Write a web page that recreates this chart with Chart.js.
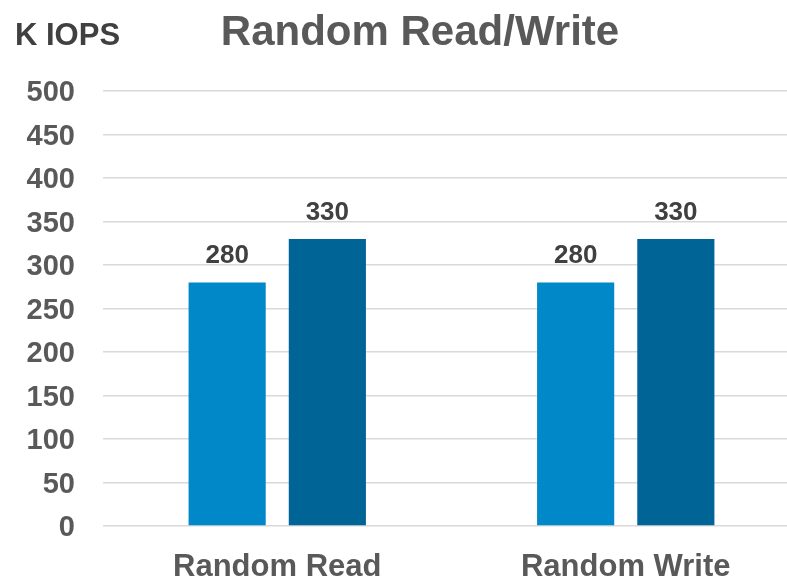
<!DOCTYPE html>
<html><head><meta charset="utf-8">
<script src="https://cdn.jsdelivr.net/npm/chart.js@4"></script>
<style>html,body{margin:0;padding:0;overflow:hidden;background:#fff}#wrap{width:800px;height:578px}</style>
</head><body><div id="wrap"><canvas id="c" width="800" height="578"></canvas></div>
<script>
const categories = ["Random Read", "Random Write"];
const seriesA = [280, 280];
const seriesB = [330, 330];
const yTicks = [0,50,100,150,200,250,300,350,400,450,500];
const titleText = "Random Read/Write";
const unitText = "K IOPS";
const FONT = '"Liberation Sans", Arial, sans-serif';

const labelPlugin = {
  id: 'labels',
  afterDatasetsDraw(chart) {
    const ctx = chart.ctx;
    ctx.save();
    ctx.font = 'bold 26px ' + FONT;
    ctx.fillStyle = '#404040';
    ctx.textAlign = 'center';
    ctx.textBaseline = 'alphabetic';
    chart.data.datasets.forEach((ds, i) => {
      chart.getDatasetMeta(i).data.forEach((bar, j) => {
        ctx.fillText(String(ds.data[j]), bar.x, bar.y - 19);
      });
    });
    ctx.font = 'bold 42px ' + FONT;
    ctx.fillStyle = '#595959';
    ctx.fillText(titleText, 420, 45);
    ctx.font = 'bold 31px ' + FONT;
    ctx.fillStyle = '#404040';
    ctx.textAlign = 'left';
    ctx.fillText(unitText, 15, 45);
    ctx.restore();
  }
};

new Chart(document.getElementById('c'), {
  type: 'bar',
  data: {
    labels: categories,
    datasets: [
      { data: seriesA, backgroundColor: '#0088C8', barPercentage: 0.77, categoryPercentage: 0.575 },
      { data: seriesB, backgroundColor: '#006496', barPercentage: 0.77, categoryPercentage: 0.575 }
    ]
  },
  options: {
    responsive: false,
    animation: false,
    devicePixelRatio: 1,
    layout: { padding: { top: 91, left: 0, right: 0, bottom: 0 } },
    plugins: { legend: { display: false }, title: { display: false }, tooltip: { enabled: false } },
    scales: {
      x: {
        afterFit(scale) { scale.height = 52; },
        grid: { display: false, drawTicks: false },
        border: { display: false },
        ticks: { color: '#595959', font: { family: FONT, size: 31, weight: 'bold' }, padding: 23 }
      },
      y: {
        min: 0, max: 500,
        afterBuildTicks(scale) { scale.ticks = yTicks.map(v => ({ value: v })); },
        afterFit(scale) { scale.width = 103; },
        grid: { color: '#d9d9d9', lineWidth: 1.5, drawTicks: false },
        border: { display: false },
        ticks: { color: '#595959', font: { family: FONT, size: 29, weight: 'bold' }, padding: 28, labelOffset: 2 }
      }
    }
  },
  plugins: [labelPlugin]
});
</script></body></html>
